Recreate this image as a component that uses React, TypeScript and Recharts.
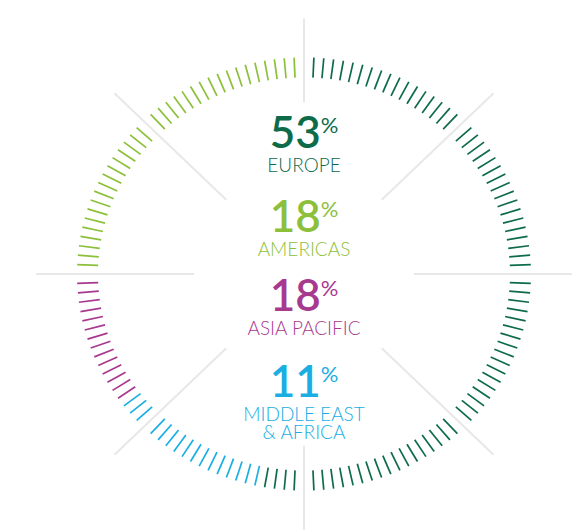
import React from 'react';
import { PieChart, Pie } from 'recharts';

// Centre text, top to bottom
const regions = ['Europe', 'Americas', 'Asia Pacific', 'Middle East & Africa'];
const shares = [53, 18, 18, 11];
const regionLabels = [['EUROPE'], ['AMERICAS'], ['ASIA PACIFIC'], ['MIDDLE EAST', '& AFRICA']];
const regionColors = ['#0d6b4a', '#8cc03a', '#a7398f', '#1aaee2'];

// Tick ring, clockwise from 12 o'clock (tick counts as drawn in the picture)
const ringOrder = ['Europe', 'Middle East & Africa', 'Asia Pacific', 'Americas'];
const ringTicks = [72, 16, 14, 34];

const SLOTS = 144; // one slot every 2.5deg
const GUIDE_EVERY = 18; // a gray guide every 45deg, no tick there
const SQUISH = 0.954; // the source ring is slightly flattened

const CX = 304;
const CY = 274;

const tickColor = (region: string) => regionColors[regions.indexOf(region)];

const slots = (() => {
  const out: any[] = [];
  let r = 0;
  let left = ringTicks[0];
  for (let k = 0; k < SLOTS; k++) {
    if (k % GUIDE_EVERY === 0) {
      out.push({ id: k, value: 1, guide: true, vertical: k % (GUIDE_EVERY * 4) === 0 });
      continue;
    }
    while (left === 0 && r < ringTicks.length - 1) {
      r++;
      left = ringTicks[r];
    }
    out.push({ id: k, value: 1, guide: false, region: ringOrder[r] });
    left--;
  }
  return out;
})();

const renderMark = (p: any) => {
  const { cx, cy, midAngle, innerRadius, outerRadius, index } = p;
  const d = p.payload && p.payload.id !== undefined ? p.payload : p;
  const rad = (midAngle * Math.PI) / 180;
  const ux = Math.cos(rad);
  const uy = -Math.sin(rad) * SQUISH;
  if (d.guide) {
    const r0 = d.vertical ? 180 : 110;
    const r1 = 268;
    return (
      <line
        key={`g-${index}`}
        x1={cx + ux * r0}
        y1={cy + uy * r0}
        x2={cx + ux * r1}
        y2={cy + uy * r1}
        stroke="#e8e8e8"
        strokeWidth={2}
      />
    );
  }
  return (
    <line
      key={`t-${index}`}
      x1={cx + ux * innerRadius}
      y1={cy + uy * innerRadius}
      x2={cx + ux * outerRadius}
      y2={cy + uy * outerRadius}
      stroke={tickColor(d.region)}
      strokeWidth={1.7}
    />
  );
};

const numberY = [148, 232, 311, 397];
const FONT = 'Lato, "Open Sans", sans-serif';

export default function App() {
  return (
    <div style={{ position: 'absolute', left: 0, top: 0, width: 582, height: 531, background: '#fff' }}>
      <PieChart width={582} height={531} margin={{ top: 0, right: 0, bottom: 0, left: 0 }}>
        <Pie
          data={slots}
          dataKey="value"
          cx={CX}
          cy={CY}
          innerRadius={206}
          outerRadius={227}
          startAngle={91.25}
          endAngle={-268.75}
          fill="transparent"
          stroke="none"
          label={renderMark}
          labelLine={false}
          isAnimationActive={false}
        />
        {regions.map((name, i) => (
          <g key={name} fontFamily={FONT} fill={regionColors[i]}>
            <text x={CX} y={numberY[i]} textAnchor="middle" fontSize={44} fontWeight={600}>
              {shares[i]}
              <tspan fontSize={22} fontWeight={400} dy={-15}>%</tspan>
            </text>
            {regionLabels[i].map((line, j) => (
              <text
                key={line}
                x={CX}
                y={numberY[i] + 24 + j * 18}
                textAnchor="middle"
                fontSize={19}
                fontWeight={300}
              >
                {line}
              </text>
            ))}
          </g>
        ))}
      </PieChart>
    </div>
  );
}
